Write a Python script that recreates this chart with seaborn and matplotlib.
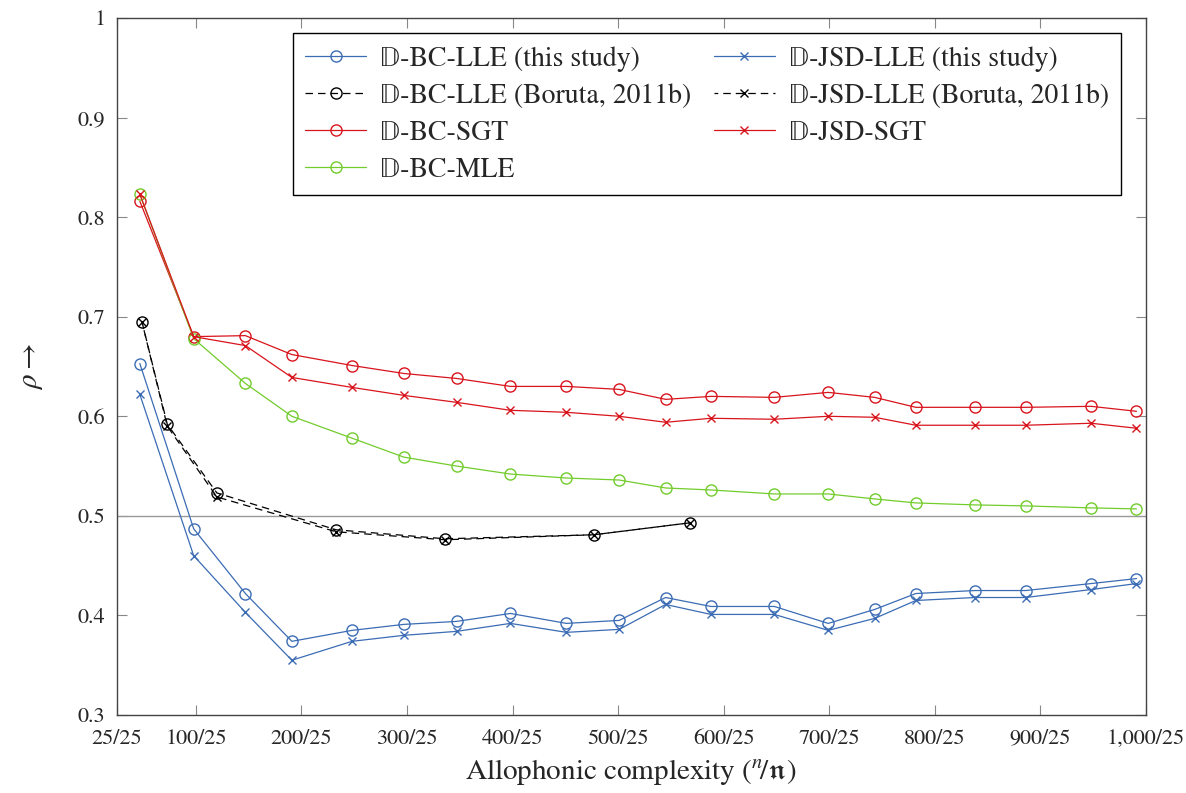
import numpy as np
import pandas as pd
import matplotlib
matplotlib.use("Agg")
import matplotlib.pyplot as plt
import seaborn as sns

# Data
n_allophones = [47, 98, 147, 191, 248, 297, 347, 398, 451, 501,
                545, 588, 648, 699, 743, 782, 838, 886, 948, 991]
bc_lle = [0.653, 0.487, 0.422, 0.374, 0.385, 0.391, 0.394, 0.402, 0.392, 0.395,
          0.418, 0.409, 0.409, 0.392, 0.406, 0.422, 0.425, 0.425, 0.432, 0.437]
jsd_lle = [0.622, 0.460, 0.403, 0.355, 0.374, 0.380, 0.384, 0.392, 0.383, 0.386,
           0.411, 0.401, 0.401, 0.385, 0.397, 0.415, 0.418, 0.418, 0.426, 0.432]
bc_sgt = [0.816, 0.680, 0.681, 0.662, 0.651, 0.643, 0.638, 0.630, 0.630, 0.627,
          0.617, 0.620, 0.619, 0.624, 0.619, 0.609, 0.609, 0.609, 0.610, 0.605]
jsd_sgt = [0.823, 0.680, 0.671, 0.639, 0.629, 0.621, 0.614, 0.606, 0.604, 0.600,
           0.594, 0.598, 0.597, 0.600, 0.599, 0.591, 0.591, 0.591, 0.593, 0.588]
bc_mle = [0.823, 0.678, 0.633, 0.600, 0.578, 0.559, 0.550, 0.542, 0.538, 0.536,
          0.528, 0.526, 0.522, 0.522, 0.517, 0.513, 0.511, 0.510, 0.508, 0.507]

n_boruta = [49, 73, 120, 233, 336, 477, 568]
bc_boruta = [0.695, 0.592, 0.523, 0.486, 0.477, 0.481, 0.493]
jsd_boruta = [0.695, 0.590, 0.519, 0.484, 0.476, 0.481, 0.493]

x_ticks = [25, 100, 200, 300, 400, 500, 600, 700, 800, 900, 1000]
x_ticklabels = ["25/25", "100/25", "200/25", "300/25", "400/25", "500/25",
                "600/25", "700/25", "800/25", "900/25", "1,000/25"]
y_ticks = [0.3, 0.4, 0.5, 0.6, 0.7, 0.8, 0.9, 1.0]
y_ticklabels = ["0.3", "0.4", "0.5", "0.6", "0.7", "0.8", "0.9", "1"]

BLUE = "#3b6cb4"
RED = "#d8141c"
GREEN = "#72cc2c"

sns.set_theme(style="ticks")
plt.rcParams["font.family"] = ["STIXGeneral", "DejaVu Sans", "DejaVu Serif"]
plt.rcParams["mathtext.fontset"] = "stix"
plt.rcParams["xtick.direction"] = "in"
plt.rcParams["ytick.direction"] = "in"

fig = plt.figure(figsize=(11.86, 7.93), dpi=100)
ax = fig.add_axes([116.6 / 1186, 1 - 715 / 793, (1146 - 116.6) / 1186, (715 - 18) / 793])

ax.axhline(0.5, color="#999999", lw=1.0, zorder=1)

D = "\U0001D53B"


def draw(x, y, color, marker, label, ls="-", ms=8):
    sns.lineplot(x=x, y=y, ax=ax, color=color, lw=0.9, linestyle=ls,
                 marker=marker, markersize=ms, markerfacecolor="none",
                 markeredgecolor=color, markeredgewidth=1.0, label=label,
                 estimator=None)


draw(n_allophones, bc_lle, BLUE, "o", D + "-BC-LLE (this study)")
draw(n_boruta, bc_boruta, "black", "o", D + "-BC-LLE (Boruta, 2011b)", ls=(0, (6, 4)))
draw(n_allophones, bc_sgt, RED, "o", D + "-BC-SGT")
draw(n_allophones, bc_mle, GREEN, "o", D + "-BC-MLE")
draw(n_allophones, jsd_lle, BLUE, "x", D + "-JSD-LLE (this study)", ms=6)
draw(n_boruta, jsd_boruta, "black", "x", D + "-JSD-LLE (Boruta, 2011b)", ls=(3, (6, 4)), ms=6)
draw(n_allophones, jsd_sgt, RED, "x", D + "-JSD-SGT", ms=6)

ax.set_xlim(25, 1000)
ax.set_ylim(0.3, 1.0)
ax.set_xticks(x_ticks)
ax.set_xticklabels(x_ticklabels)
ax.set_yticks(y_ticks)
ax.set_yticklabels(y_ticklabels)
ax.tick_params(axis="both", which="both", direction="in", length=7, width=0.8,
               color="#888888", labelsize=16, top=True, right=True)
ax.tick_params(axis="x", pad=10)
ax.tick_params(axis="y", pad=8)
for s in ax.spines.values():
    s.set_color("#444444")
    s.set_linewidth(1.0)

ax.set_xlabel(r"Allophonic complexity (${}^{n}\!/\mathfrak{n}$)", fontsize=21, labelpad=6)
ax.set_ylabel(r"$\rho \rightarrow$", fontsize=21, labelpad=24)

leg = ax.legend(ncol=2, loc="upper left", bbox_to_anchor=(0.171, 0.978),
                fontsize=20, frameon=True, fancybox=False, framealpha=1,
                edgecolor="black", borderpad=0.45, labelspacing=0.42,
                handlelength=2.2, handletextpad=0.5, columnspacing=0.8,
                borderaxespad=0)
leg.get_frame().set_linewidth(1.0)

fig.savefig("out.png", dpi=100)
